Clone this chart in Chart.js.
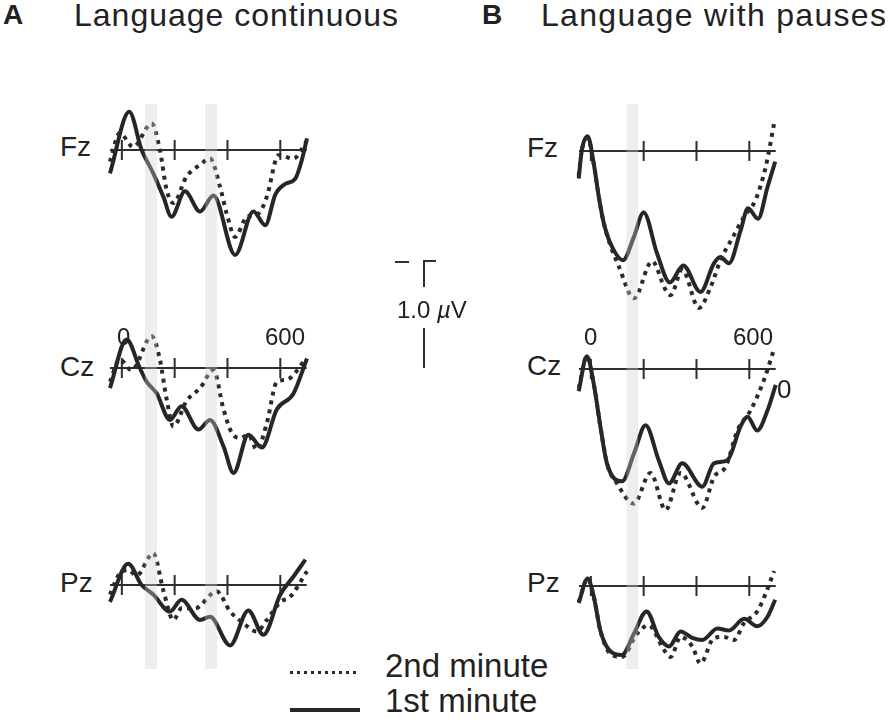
<!DOCTYPE html>
<html>
<head>
<meta charset="utf-8">
<script src="https://cdn.jsdelivr.net/npm/chart.js@4.4.0/dist/chart.umd.min.js"></script>
<style>
  html, body { margin: 0; padding: 0; background: #fff; }
  body { width: 892px; height: 719px; position: relative; overflow: hidden;
         font-family: "Liberation Sans", Arial, sans-serif; color: #222; }
  .panel { position: absolute; }
  .txt { position: absolute; line-height: 1; white-space: nowrap; }
  .bar { position: absolute; background: #2e2e2e; }
</style>
</head>
<body>

<div class="txt" style="left:3px;top:1px;font-size:28px;font-weight:bold;">A</div>
<div class="txt" style="left:74px;top:-1px;font-size:32px;letter-spacing:1px;">Language continuous</div>
<div class="txt" style="left:482px;top:1px;font-size:28px;font-weight:bold;">B</div>
<div class="txt" style="left:541px;top:-1px;font-size:32px;letter-spacing:1.3px;">Language with pauses</div>

<div id="charts"></div>

<div id="labels"></div>

<!-- scale bar -->
<div class="bar" style="left:395px;top:261px;width:14px;height:2px;"></div>
<div class="bar" style="left:423px;top:260px;width:13px;height:2px;"></div>
<div class="bar" style="left:423px;top:260px;width:2px;height:27px;"></div>
<div class="bar" style="left:423px;top:328px;width:2px;height:40px;"></div>
<div class="txt" style="left:397px;top:298px;font-size:24px;">1.0 <i>µ</i>V</div>

<!-- legend -->
<div style="position:absolute;left:290px;top:671px;width:69px;height:3px;
  background:repeating-linear-gradient(90deg,#2a2a2a 0 3px,transparent 3px 7px);"></div>
<div class="txt" style="left:385px;top:649px;font-size:33px;">2nd minute</div>
<div class="bar" style="left:290px;top:708px;width:70px;height:4px;background:#262626;"></div>
<div class="txt" style="left:385px;top:684px;font-size:33px;">1st minute</div>

<script>
// ERP keypoints: time (ms) and amplitude (µV, negative plotted up)
// "T1/V1" = 1st minute (solid), "T2/V2" = 2nd minute (dotted)

// A - Language continuous
const aFzT1 = [-45, 28, 75, 119, 157, 188, 239, 296, 347, 429, 498, 543, 581, 619, 657, 682, 701];
const aFzV1 = [0.22, -0.36, 0, 0.22, 0.44, 0.63, 0.39, 0.58, 0.43, 0.99, 0.58, 0.71, 0.42, 0.32, 0.27, 0.09, -0.11];
const aFzT2 = [-45, -8, 43, 113, 144, 170, 195, 245, 296, 334, 372, 397, 429, 473, 517, 549, 593, 650, 701];
const aFzV2 = [0.11, -0.16, -0.03, -0.25, 0, 0.38, 0.50, 0.25, 0.14, 0.08, 0.35, 0.60, 0.82, 0.63, 0.60, 0.44, 0.05, 0.08, -0.09];

const aCzT1 = [-45, 18, 68, 94, 132, 182, 226, 290, 334, 385, 423, 479, 530, 587, 650, 701];
const aCzV1 = [0.19, -0.27, 0, 0.13, 0.24, 0.49, 0.36, 0.58, 0.49, 0.74, 0.99, 0.63, 0.75, 0.39, 0.24, -0.09];
const aCzT2 = [-45, -8, 37, 113, 144, 170, 195, 245, 296, 347, 385, 416, 448, 479, 511, 549, 587, 625, 695];
const aCzV2 = [0.13, -0.08, 0.02, -0.30, -0.08, 0.30, 0.55, 0.31, 0.19, 0.02, 0.39, 0.61, 0.66, 0.63, 0.77, 0.52, 0.13, 0.11, -0.08];

const aPzT1 = [-45, 24, 75, 119, 182, 226, 296, 334, 410, 479, 536, 600, 650, 695];
const aPzV1 = [0.16, -0.20, 0, 0.09, 0.25, 0.14, 0.33, 0.30, 0.57, 0.24, 0.47, 0.09, -0.08, -0.24];
const aPzT2 = [-45, -8, 24, 56, 119, 157, 195, 226, 277, 359, 410, 460, 511, 549, 600, 638, 701];
const aPzV2 = [0.09, -0.11, -0.14, -0.09, -0.30, 0.05, 0.33, 0.22, 0.22, 0.06, 0.25, 0.36, 0.44, 0.33, 0.16, 0.11, -0.13];

// B - Language with pauses
const bFzT1 = [-46, -34, -12, 11, 30, 49, 74, 122, 163, 200, 251, 299, 350, 415, 466, 491, 523, 567, 595, 633, 669, 698];
const bFzV1 = [0.26, -0.01, -0.14, 0.12, 0.43, 0.68, 0.87, 1.03, 0.81, 0.58, 0.97, 1.24, 1.08, 1.33, 1.06, 1.00, 1.06, 0.75, 0.54, 0.64, 0.34, 0.10];
const bFzT2 = [-46, -34, -12, 11, 30, 49, 74, 106, 163, 232, 283, 302, 346, 409, 454, 491, 536, 580, 624, 662, 694];
const bFzV2 = [0.23, -0.01, -0.12, 0.12, 0.43, 0.68, 0.89, 1.09, 1.39, 1.04, 1.31, 1.36, 1.12, 1.48, 1.28, 1.03, 0.82, 0.62, 0.46, 0.15, -0.26];

const bCzT1 = [-46, -15, 11, 36, 61, 118, 163, 207, 257, 296, 346, 422, 466, 517, 567, 593, 630, 669, 700];
const bCzV1 = [0.21, -0.12, 0.14, 0.54, 0.89, 1.06, 0.80, 0.53, 0.86, 1.08, 0.89, 1.11, 0.89, 0.86, 0.54, 0.45, 0.58, 0.39, 0.15];
const bCzT2 = [-46, -15, 11, 36, 61, 99, 163, 226, 283, 340, 422, 466, 511, 555, 605, 656, 694];
const bCzV2 = [0.18, -0.12, 0.14, 0.54, 0.89, 1.08, 1.27, 0.98, 1.33, 0.98, 1.31, 1.02, 0.92, 0.58, 0.39, 0.10, -0.19];

const bPzT1 = [-46, -12, 11, 36, 68, 118, 163, 211, 257, 296, 340, 384, 422, 479, 523, 580, 630, 669, 698];
const bPzV1 = [0.16, -0.07, 0.10, 0.42, 0.60, 0.65, 0.45, 0.24, 0.48, 0.57, 0.43, 0.49, 0.51, 0.40, 0.42, 0.31, 0.38, 0.29, 0.13];
const bPzT2 = [-46, -12, 11, 36, 74, 118, 175, 219, 276, 302, 340, 384, 415, 466, 504, 542, 580, 630, 662, 694];
const bPzV2 = [0.15, -0.07, 0.10, 0.42, 0.64, 0.67, 0.45, 0.37, 0.60, 0.67, 0.48, 0.57, 0.73, 0.49, 0.48, 0.51, 0.35, 0.24, 0.07, -0.14];

const tickMs = [0, 200, 400, 600];
const bandsA = [[87, 133], [315, 361]];
const bandsB = [[135, 179]];
const rowNames = ['Fz', 'Cz', 'Pz'];

// layout
const PX_PER_UV = 106;
const X_MIN = -60, X_MAX = 720;
const rows = [
  { top: 104, height: 216 },
  { top: 320, height: 210 },
  { top: 530, height: 139 }
];
const cols = [
  { left: 106, baselines: [150, 368, 585], bands: bandsA, labelX: 60,
    series: [[aFzT1, aFzV1, aFzT2, aFzV2], [aCzT1, aCzV1, aCzT2, aCzV2], [aPzT1, aPzV1, aPzT2, aPzV2]] },
  { left: 575, baselines: [151, 369, 586], bands: bandsB, labelX: 527,
    series: [[bFzT1, bFzV1, bFzT2, bFzV2], [bCzT1, bCzV1, bCzT2, bCzV2], [bPzT1, bPzV1, bPzT2, bPzV2]] }
];
const labelBase = [[157, 377, 593], [158, 376, 593]];

const pts = (t, v) => t.map((x, i) => ({ x: x, y: v[i] }));

// zero line with ticks, under the curves
const baselinePlugin = {
  id: 'baseline',
  beforeDatasetsDraw(chart) {
    const { ctx, scales: { x, y } } = chart;
    const y0 = y.getPixelForValue(0);
    ctx.save();
    ctx.strokeStyle = '#2e2e2e';
    ctx.lineWidth = 2;
    ctx.beginPath();
    ctx.moveTo(x.getPixelForValue(-45), y0);
    ctx.lineTo(x.getPixelForValue(700), y0);
    tickMs.forEach(t => {
      const px = x.getPixelForValue(t);
      ctx.moveTo(px, y0 - 10);
      ctx.lineTo(px, y0 + 10);
    });
    ctx.stroke();
    ctx.restore();
  }
};

// grey time windows, drawn over the curves
const bandPlugin = {
  id: 'bands',
  afterDatasetsDraw(chart, args, opts) {
    const { ctx, scales: { x } } = chart;
    ctx.save();
    ctx.fillStyle = 'rgba(208,208,208,0.36)';
    (opts.ranges || []).forEach(r => {
      const x0 = x.getPixelForValue(r[0]);
      const x1 = x.getPixelForValue(r[1]);
      ctx.fillRect(x0, 0, x1 - x0, chart.height);
    });
    ctx.restore();
  }
};

const width = 206;
const holder = document.getElementById('charts');
const labels = document.getElementById('labels');

cols.forEach((col, c) => {
  rows.forEach((row, r) => {
    const div = document.createElement('div');
    div.className = 'panel';
    div.style.left = col.left + 'px';
    div.style.top = row.top + 'px';
    div.style.width = width + 'px';
    div.style.height = row.height + 'px';
    const canvas = document.createElement('canvas');
    div.appendChild(canvas);
    holder.appendChild(div);

    const base = col.baselines[r];
    const s = col.series[r];
    new Chart(canvas, {
      type: 'line',
      data: {
        datasets: [
          {
            label: '2nd minute',
            data: pts(s[2], s[3]),
            borderColor: '#2a2a2a',
            borderWidth: 4,
            borderDash: [4, 5],
            borderCapStyle: 'butt',
            pointRadius: 0,
            cubicInterpolationMode: 'monotone',
            clip: false
          },
          {
            label: '1st minute',
            data: pts(s[0], s[1]),
            borderColor: '#262626',
            borderWidth: 4,
            pointRadius: 0,
            cubicInterpolationMode: 'monotone',
            clip: false
          }
        ]
      },
      options: {
        responsive: true,
        maintainAspectRatio: false,
        animation: false,
        events: [],
        layout: { padding: 0 },
        scales: {
          x: { type: 'linear', min: X_MIN, max: X_MAX, display: false },
          y: {
            type: 'linear',
            reverse: true,
            min: -(base - row.top) / PX_PER_UV,
            max: (row.top + row.height - base) / PX_PER_UV,
            display: false
          }
        },
        plugins: {
          legend: { display: false },
          tooltip: { enabled: false },
          bands: { ranges: col.bands }
        }
      },
      plugins: [baselinePlugin, bandPlugin]
    });

    const lab = document.createElement('div');
    lab.className = 'txt';
    lab.style.left = col.labelX + 'px';
    lab.style.top = (labelBase[c][r] - 0.8465 * 28) + 'px';
    lab.style.fontSize = '28px';
    lab.textContent = rowNames[r];
    labels.appendChild(lab);
  });
});

// time labels above the Cz rows
[['0', 117, 345, 24], ['600', 265, 345, 24], ['0', 584, 345, 24], ['600', 733, 345, 24], ['0', 777, 398, 26]]
  .forEach(([txt, x, b, fs]) => {
    const d = document.createElement('div');
    d.className = 'txt';
    d.style.left = x + 'px';
    d.style.top = (b - 0.8465 * fs) + 'px';
    d.style.fontSize = fs + 'px';
    d.textContent = txt;
    labels.appendChild(d);
  });
</script>
</body>
</html>
